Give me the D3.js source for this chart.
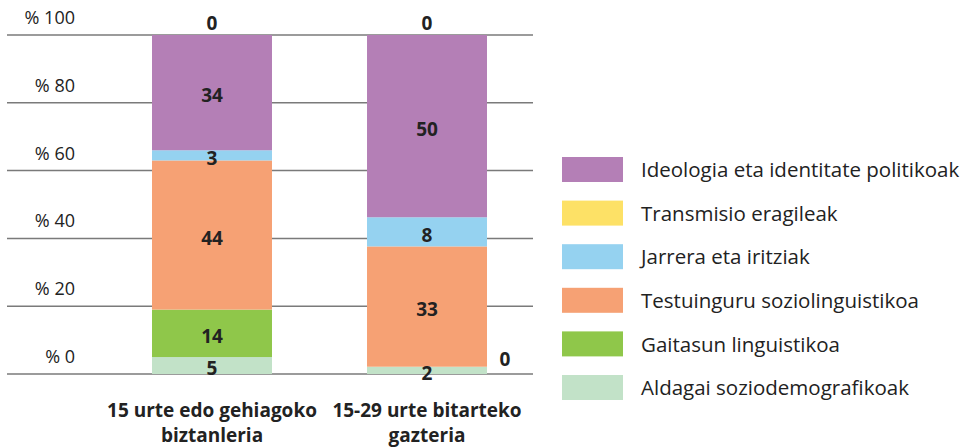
<!DOCTYPE html>
<html lang="eu">
<head>
<meta charset="UTF-8">
<title>Eragileak</title>
<style>
    body { margin: 0; background: #fff; font-family: "Open Sans", sans-serif; }
    svg text { fill: #222; }
</style>
</head>
<body>
<svg id="chart" width="974" height="448"></svg>
<script src="https://d3js.org/d3.v7.min.js"></script>
<script>
// Categories (x axis, two lines each)
const groups = ["g1", "g2"];
const groupLabels = [
    ["15 urte edo gehiagoko", "biztanleria"],
    ["15-29 urte bitarteko", "gazteria"]
];

// Series, bottom to top of the stack
const seriesNames = [
    "Aldagai soziodemografikoak",
    "Gaitasun linguistikoa",
    "Testuinguru soziolinguistikoa",
    "Jarrera eta iritziak",
    "Transmisio eragileak",
    "Ideologia eta identitate politikoak"
];
const seriesColors = ["#c2e2c8", "#8fc74a", "#f6a174", "#95d2f0", "#fde166", "#b47fb6"];

// Values per series, [g1, g2]
const aldagai     = [5, 2];
const gaitasun    = [14, 0];
const testuinguru = [44, 33];
const jarrera     = [3, 8];
const transmisio  = [0, 0];
const ideologia   = [34, 50];

const yTicks = [0, 0.2, 0.4, 0.6, 0.8, 1];

const seriesValues = [aldagai, gaitasun, testuinguru, jarrera, transmisio, ideologia];
const table = groups.map((g, i) => {
    const row = { group: g };
    seriesNames.forEach((s, k) => row[s] = seriesValues[k][i]);
    return row;
});

const svg = d3.select("#chart");

const x = d3.scaleBand().domain(groups).range([44.5, 594.5]).paddingInner(0.442).paddingOuter(0.5);
const y = d3.scaleLinear().domain([0, 1]).range([374, 35]);
const color = d3.scaleOrdinal().domain(seriesNames).range(seriesColors);

// gridlines + labels
const grid = svg.append("g");
grid.selectAll("line").data(yTicks).join("line")
    .attr("x1", 7).attr("x2", 533)
    .attr("y1", d => y(d)).attr("y2", d => y(d))
    .attr("stroke", "#7a7a7a").attr("stroke-width", 1.5);
grid.selectAll("text").data(yTicks).join("text")
    .attr("x", 75).attr("y", d => y(d) - 11)
    .attr("text-anchor", "end")
    .attr("font-size", 18)
    .text(d => "% " + Math.round(d * 100));

// stacked bars (normalised to 100%)
const stack = d3.stack().keys(seriesNames).offset(d3.stackOffsetExpand);
const layers = stack(table);

const layer = svg.append("g").selectAll("g").data(layers).join("g")
    .attr("fill", d => color(d.key));
layer.selectAll("rect").data(d => d).join("rect")
    .attr("x", d => x(d.data.group))
    .attr("width", x.bandwidth())
    .attr("y", d => y(d[1]))
    .attr("height", d => y(d[0]) - y(d[1]));

// value labels
const labels = svg.append("g");
layers.forEach(l => {
    l.forEach(d => {
        const v = d.data[l.key];
        let lx = x(d.data.group) + x.bandwidth() / 2;
        let ly = (y(d[0]) + y(d[1])) / 2 + 3;
        if (v === 0) {
            if (l.key === "Transmisio eragileak") {
                ly = y(1) - 12;
            } else {
                lx = x(d.data.group) + x.bandwidth() + 18;
                ly = y(d[0]) - 8;
            }
        }
        labels.append("text")
            .attr("x", lx).attr("y", ly)
            .attr("dy", "0.36em")
            .attr("text-anchor", "middle")
            .attr("font-size", 19)
            .attr("font-weight", 700)
            .text(v);
    });
});

// category labels
const cat = svg.append("g");
groups.forEach((g, i) => {
    const t = cat.append("text")
        .attr("x", x(g) + x.bandwidth() / 2)
        .attr("y", 417)
        .attr("text-anchor", "middle")
        .attr("font-size", 19)
        .attr("font-weight", 700);
    groupLabels[i].forEach((line, j) => {
        t.append("tspan")
            .attr("x", x(g) + x.bandwidth() / 2)
            .attr("dy", j === 0 ? 0 : 25)
            .text(line);
    });
});

// legend
const legendItems = seriesNames.slice().reverse();
const legend = svg.append("g").attr("transform", "translate(562,157)");
const item = legend.selectAll("g").data(legendItems).join("g")
    .attr("transform", (d, i) => `translate(0,${i * 43.6})`);
item.append("rect")
    .attr("width", 61).attr("height", 25)
    .attr("fill", d => color(d));
item.append("text")
    .attr("x", 79).attr("y", 13)
    .attr("dy", "0.35em")
    .attr("font-size", 20.5)
    .text(d => d);
</script>
</body>
</html>
